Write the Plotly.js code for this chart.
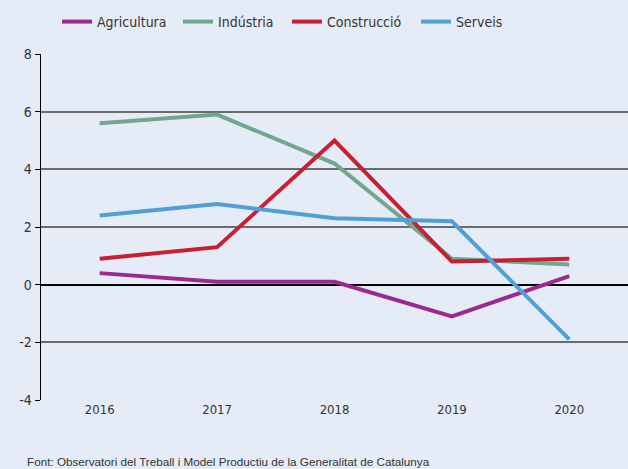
<!DOCTYPE html>
<html><head><meta charset="utf-8">
<script src="https://cdn.plot.ly/plotly-3.0.1.min.js"></script>
<style>body{margin:0;background:#e5ecf7}</style>
</head><body>
<div id="chart" style="width:628px;height:469px"></div>
<script>
const years = ['2016','2017','2018','2019','2020'];
const agricultura = [0.4, 0.1, 0.1, -1.1, 0.3];
const industria = [5.6, 5.9, 4.2, 0.9, 0.7];
const construccio = [0.9, 1.3, 5.0, 0.8, 0.9];
const serveis = [2.4, 2.8, 2.3, 2.2, -1.9];
const yTickVals = [-4,-2,0,2,4,6,8];
const yTickText = ['-4','-2','0','2','4','6','8'];
const names = ['Agricultura','Indústria','Construcció','Serveis'];
const colors = ['#9a2a90','#72a68e','#c81f32','#519fd5'];
const series = [agricultura, industria, construccio, serveis];
const font = 'DejaVu Sans Condensed, Liberation Sans Narrow, sans-serif';
const legendIds = ['legend','legend2','legend3','legend4'];
const legendX = [57, 178, 287, 416];
const traces = series.map((s,i)=>({x:years,y:s,name:names[i],type:'scatter',mode:'lines',
  legend:legendIds[i],line:{color:colors[i],width:4}}));
const layout = {
  width:628,height:469,
  paper_bgcolor:'#e5ecf7',plot_bgcolor:'#e5ecf7',
  margin:{l:41,r:0,t:54,b:69},
  font:{family:font,size:13,color:'#333'},
  showlegend:true,
  xaxis:{type:'category',range:[-0.5,4.5],showgrid:false,zeroline:false,showline:false,ticks:'',
    tickfont:{family:font,size:13,color:'#333'},fixedrange:true},
  yaxis:{range:[-4,8],tickmode:'array',tickvals:yTickVals,ticktext:yTickText,showgrid:true,gridcolor:'#6b6b6b',gridwidth:2,
    zeroline:true,zerolinecolor:'#000',zerolinewidth:2,showline:true,linecolor:'#000',linewidth:1.5,
    ticks:'outside',ticklen:5,tickcolor:'#000',tickwidth:1,
    tickfont:{family:font,size:14,color:'#333'},fixedrange:true},
  annotations:[{text:'Font: Observatori del Treball i Model Productiu de la Generalitat de Catalunya',
    xref:'paper',yref:'paper',x:(25-41)/587,y:-(461-400)/346,xanchor:'left',yanchor:'middle',showarrow:false,
    font:{family:'Liberation Sans, Arial, sans-serif',size:11.7,color:'#333'}}]
};
legendIds.forEach((id,i)=>{
  layout[id] = {orientation:'h',x:legendX[i]/628,xref:'container',xanchor:'left',y:1-22/469,yref:'container',yanchor:'middle',
    font:{family:font,size:14,color:'#333'},bgcolor:'rgba(0,0,0,0)',itemwidth:30};
});
Plotly.newPlot('chart',traces,layout,{displayModeBar:false,staticPlot:true});
</script>
</body></html>
